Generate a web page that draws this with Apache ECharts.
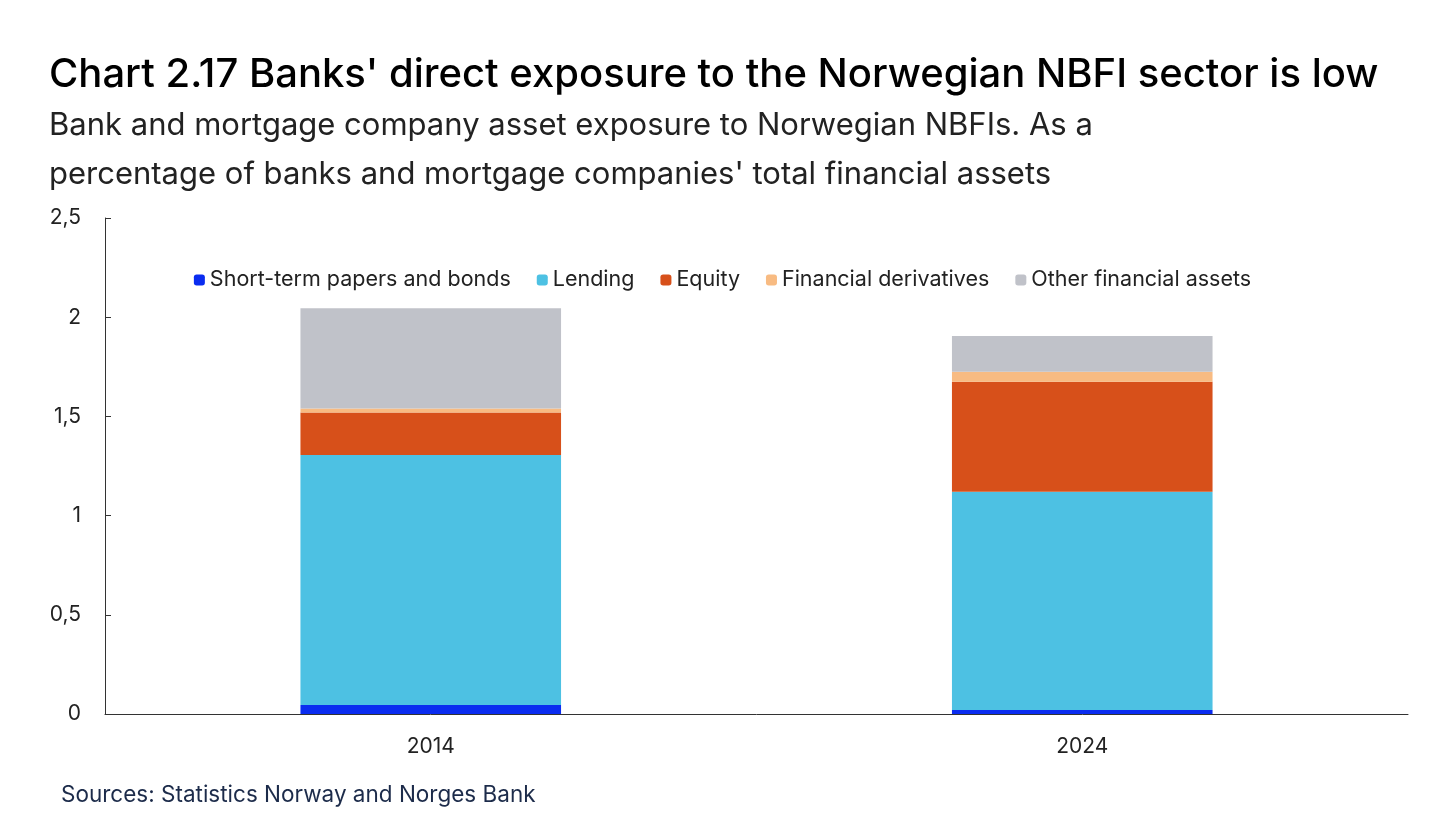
<!DOCTYPE html>
<html><head><meta charset="utf-8">
<script src="https://cdn.jsdelivr.net/npm/echarts@6/dist/echarts.min.js"></script>
<style>body{margin:0;background:#fff}#c{width:1445px;height:827px}</style>
</head><body><div id="c"></div>
<script>
const years = ['2014', '2024'];
const bonds = [0.045, 0.02];
const lending = [1.26, 1.10];
const equity = [0.215, 0.555];
const derivatives = [0.02, 0.05];
const other = [0.505, 0.18];
const yTicks = [0, 0.5, 1, 1.5, 2, 2.5];

const chart = echarts.init(document.getElementById('c'));
const font = 'Inter, "Noto Sans", sans-serif';
function bar(name, data, color) {
    return { name: name, type: 'bar', stack: 'a', data: data, barWidth: '40%',
        itemStyle: { color: color } };
}
chart.setOption({
    animation: false,
    textStyle: { fontFamily: font },
    title: [
        { text: "Chart 2.17 Banks' direct exposure to the Norwegian NBFI sector is low",
          left: 44, top: 50, textStyle: { fontSize: 40, fontWeight: 500, color: '#000', fontFamily: font } },
        { text: "Bank and mortgage company asset exposure to Norwegian NBFIs. As a\npercentage of banks and mortgage companies' total financial assets",
          left: 44, top: 96, textStyle: { fontSize: 31, fontWeight: 'normal', color: '#222', lineHeight: 49, fontFamily: font } },
        { text: 'Sources: Statistics Norway and Norges Bank', left: 56, top: 779,
          textStyle: { fontSize: 22.5, fontWeight: 'normal', color: '#1c2b4a', fontFamily: font } }
    ],
    legend: { top: 264, left: 'center', itemWidth: 11, itemHeight: 11, itemGap: 26,
        textStyle: { fontSize: 21.5, color: '#222' } },
    grid: { left: 105, right: 37, top: 218, bottom: 113 },
    xAxis: { type: 'category', data: years,
        axisLine: { lineStyle: { color: '#333' } }, axisTick: { show: false },
        axisLabel: { fontSize: 21, color: '#222', margin: 22 } },
    yAxis: { type: 'value', min: 0, max: 2.5, interval: 0.5, splitLine: { show: false },
        axisLine: { show: true, lineStyle: { color: '#333' } },
        axisTick: { show: true, inside: true, length: 6 },
        axisLabel: { fontSize: 21, color: '#222', margin: 24,
            formatter: v => yTicks.includes(v) ? String(v).replace('.', ',') : '' } },
    series: [
        bar('Short-term papers and bonds', bonds, '#0a2cf0'),
        bar('Lending', lending, '#4dc1e3'),
        bar('Equity', equity, '#d7501a'),
        bar('Financial derivatives', derivatives, '#f8bb82'),
        bar('Other financial assets', other, '#c0c2c9')
    ]
});
</script></body></html>
